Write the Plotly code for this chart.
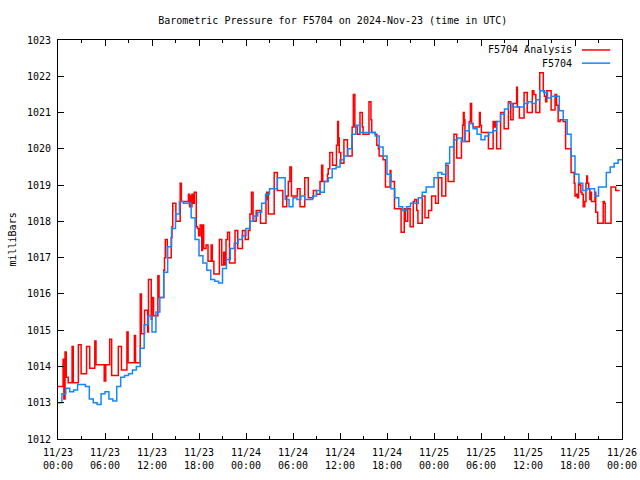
import plotly.graph_objects as go

# ---- data (hours since 2024-11-23 00:00 UTC, pressure in mbar) ----
tick_hours = [0, 6, 12, 18, 24, 30, 36, 42, 48, 54, 60, 66, 72]
tick_labels = ["11/23<br>00:00", "11/23<br>06:00", "11/23<br>12:00", "11/23<br>18:00",
               "11/24<br>00:00", "11/24<br>06:00", "11/24<br>12:00", "11/24<br>18:00",
               "11/25<br>00:00", "11/25<br>06:00", "11/25<br>12:00", "11/25<br>18:00",
               "11/26<br>00:00"]

analysis_hours = [
    0.0, 0.65, 0.75, 0.9, 1.05, 1.3, 1.8, 1.95, 2.6, 2.95, 3.65, 4.05, 4.7, 4.85, 5.9, 6.1,
    6.6, 6.85, 7.7, 8.1, 8.8, 8.95, 9.75, 9.9, 10.5, 10.65, 11.05, 11.45, 11.55, 11.9, 12.0,
    12.2, 12.75, 12.9, 13.5, 13.6, 13.7, 13.95, 14.45, 14.55, 14.65, 15.05, 15.6, 15.75,
    16.65, 16.8, 16.9, 17.0, 17.1, 17.25, 17.4, 17.65, 17.8, 17.95, 18.15, 18.35, 18.45,
    18.6, 18.9, 19.15, 19.55, 19.7, 19.9, 20.6, 20.9, 21.15, 21.3, 21.45, 21.65, 21.9, 22.6,
    22.95, 23.55, 23.9, 24.3, 24.5, 24.7, 24.9, 25.3, 25.85, 26.55, 26.65, 26.85, 27.6,
    28.0, 28.7, 29.2, 29.4, 29.6, 29.8, 30.55, 30.9, 31.5, 31.95, 32.6, 33.0, 33.45, 33.65,
    33.8, 34.4, 34.5, 34.7, 35.05, 35.55, 35.7, 35.8, 35.9, 36.1, 36.5, 36.95, 37.55, 37.7,
    37.9, 38.2, 38.55, 38.85, 38.95, 39.7, 39.95, 40.05, 40.5, 40.7, 40.9, 41.0, 41.5, 41.8,
    42.4, 42.5, 42.95, 43.8, 44.2, 44.35, 44.65, 44.95, 45.35, 45.55, 45.8, 45.95, 46.5,
    46.85, 47.3, 47.7, 48.2, 48.55, 49.0, 49.5, 49.8, 50.55, 50.9, 51.5, 51.65, 51.75, 51.85,
    51.95, 52.5, 52.65, 52.8, 53.0, 53.8, 53.9, 54.05, 54.95, 55.55, 55.7, 55.85, 56.0, 56.5,
    56.95, 57.5, 57.8, 58.1, 58.55, 58.65, 58.9, 59.5, 59.9, 60.55, 60.75, 61.0, 61.5, 61.95,
    62.1, 62.25, 62.4, 62.95, 63.45, 63.65, 63.85, 64.1, 64.5, 64.8, 65.5, 65.9, 66.0, 66.2,
    66.3, 66.45, 66.6, 66.75, 66.9, 67.05, 67.25, 67.4, 67.5, 67.6, 67.75, 67.9, 68.0, 68.1,
    68.55, 68.65, 68.9, 69.6, 69.75, 69.85, 70.6, 71.2, 71.7]
analysis_mb = [
    1013.45, 1014.2, 1013.1, 1014.4, 1013.7, 1013.55, 1014.55, 1013.55, 1014.6, 1013.8,
    1014.55, 1013.95, 1014.7, 1014.05, 1013.6, 1014.05, 1014.75, 1013.75, 1014.55, 1013.9,
    1014.95, 1014.1, 1014.85, 1014.1, 1016.0, 1014.9, 1015.55, 1014.95, 1016.4, 1015.3,
    1015.9, 1015.4, 1016.5, 1015.9, 1016.65, 1017.0, 1017.5, 1017.0, 1017.55, 1017.85,
    1018.5, 1018.0, 1019.05, 1018.55, 1018.75, 1018.4, 1018.7, 1018.4, 1018.75, 1018.5,
    1018.8, 1017.85, 1017.8, 1017.6, 1017.9, 1017.2, 1017.9, 1017.25, 1017.35, 1016.9,
    1017.35, 1016.9, 1016.55, 1017.5, 1016.8, 1017.15, 1016.8, 1017.5, 1017.7, 1016.85,
    1017.75, 1017.25, 1017.75, 1017.5, 1017.75, 1018.2, 1018.8, 1018.0, 1018.3, 1017.95,
    1018.6, 1018.8, 1018.2, 1019.35, 1018.85, 1018.4, 1018.7, 1019.1, 1019.5, 1018.7,
    1018.9, 1018.4, 1019.2, 1018.65, 1018.85, 1018.75, 1019.1, 1019.55, 1019.1, 1019.3,
    1019.45, 1019.9, 1019.55, 1020.1, 1020.75, 1020.3, 1019.9, 1019.6, 1020.25, 1019.8,
    1020.6, 1021.5, 1020.6, 1020.4, 1021.0, 1020.6, 1020.4, 1021.3, 1020.8, 1020.45,
    1020.4, 1020.1, 1020.0, 1019.8, 1019.7, 1018.95, 1019.4, 1019.1, 1018.35, 1017.7,
    1018.35, 1018.0, 1018.35, 1017.85, 1018.55, 1018.6, 1018.3, 1017.95, 1018.7, 1018.1,
    1018.3, 1018.7, 1018.5, 1019.2, 1018.7, 1019.55, 1019.1, 1020.4, 1019.75, 1020.2,
    1020.65, 1021.0, 1020.8, 1020.2, 1020.75, 1021.25, 1020.7, 1020.6, 1021.0, 1020.65,
    1020.45, 1020.0, 1020.75, 1020.6, 1020.75, 1020.0, 1021.0, 1020.55, 1021.3, 1020.8,
    1021.25, 1021.7, 1021.15, 1020.85, 1021.55, 1021.0, 1021.6, 1021.5, 1021.0, 1022.1,
    1021.6, 1021.45, 1021.3, 1021.6, 1021.07, 1021.5, 1021.2, 1020.75, 1020.8, 1020.75,
    1020.0, 1019.35, 1019.05, 1018.7, 1018.75, 1018.65, 1019.05, 1019.0, 1018.8, 1018.75,
    1018.4, 1018.55, 1019.05, 1019.25, 1019.05, 1018.9, 1018.6, 1018.8, 1018.55, 1018.8,
    1018.25, 1017.95, 1018.55, 1018.5, 1017.95, 1018.95, 1018.85, 1018.85]

station_hours = [i * 0.5 for i in range(145)]
station_mb = [
    1013.0, 1013.25, 1013.4, 1013.3, 1013.35, 1013.5, 1013.5, 1013.45, 1013.1, 1013.0,
    1012.95, 1013.25, 1013.3, 1013.1, 1013.05, 1013.45, 1013.7, 1013.75, 1013.8, 1013.9,
    1014.0, 1014.5, 1015.15, 1015.4, 1014.95, 1015.5, 1015.9, 1016.6, 1017.3, 1017.8,
    1018.2, 1018.55, 1018.5, 1018.5, 1018.1, 1017.5, 1017.05, 1016.85, 1016.65, 1016.4,
    1016.35, 1016.3, 1016.7, 1016.95, 1017.25, 1017.4, 1017.5, 1017.6, 1017.8, 1018.0,
    1018.15, 1018.25, 1018.5, 1018.75, 1018.9, 1018.9, 1019.2, 1019.2, 1018.6, 1018.4,
    1018.65, 1018.6, 1018.7, 1018.6, 1018.6, 1018.7, 1018.85, 1018.8, 1019.1, 1019.2,
    1019.45, 1019.5, 1019.7, 1019.8, 1020.0, 1020.4, 1020.65, 1020.45, 1020.45, 1020.45,
    1020.45, 1020.35, 1020.05, 1019.8, 1019.3, 1018.9, 1018.65, 1018.4, 1018.3, 1018.4,
    1018.5, 1018.5, 1018.65, 1018.8, 1018.95, 1018.95, 1019.2, 1019.35, 1019.3, 1019.6,
    1020.05, 1020.25, 1020.3, 1020.2, 1020.5, 1020.7, 1020.55, 1020.4, 1020.25, 1020.35,
    1020.45, 1020.5, 1020.75, 1020.95, 1021.1, 1021.25, 1021.15, 1021.15, 1021.15, 1021.25,
    1021.3, 1021.25, 1021.35, 1021.6, 1021.55, 1021.4, 1021.45, 1021.45, 1021.05, 1020.8,
    1020.4, 1019.8, 1019.3, 1019.05, 1018.85, 1018.9, 1018.9, 1018.7, 1018.95, 1018.95,
    1019.35, 1019.5, 1019.6, 1019.7, 1019.72]

assert len(analysis_hours) == len(analysis_mb)
assert len(station_hours) == len(station_mb)

RED = "#ff0000"
BLUE = "#1188ff"
FONT = "DejaVu Sans Mono"

fig = go.Figure()
fig.add_trace(go.Scatter(x=analysis_hours, y=analysis_mb, mode="lines", line_shape="hv",
                         line=dict(color=RED, width=1.5), name="F5704 Analysis",
                         showlegend=False))
fig.add_trace(go.Scatter(x=station_hours, y=station_mb, mode="lines", line_shape="hv",
                         line=dict(color=BLUE, width=1.5), name="F5704",
                         showlegend=False))

axis_common = dict(showline=True, linecolor="black", linewidth=1, mirror="allticks",
                   ticks="inside", tickcolor="black", showgrid=False, zeroline=False,
                   automargin=False,
                   tickfont=dict(family=FONT, size=10, color="black"))

fig.update_xaxes(range=[0, 72], tickmode="array", tickvals=tick_hours, ticktext=tick_labels,
                 ticklen=6, minor=dict(ticks="inside", dtick=3, ticklen=3, tickcolor="black",
                                       showgrid=False),
                 ticklabelstandoff=4, **axis_common)
fig.update_yaxes(range=[1012, 1023], dtick=1, ticklen=6, ticklabelstandoff=4,
                 **axis_common)

# y-axis title and legend drawn gnuplot-style
fig.add_annotation(x=(12 - 58) / 564, y=0.5, xref="paper", yref="paper", text="milliBars",
                   showarrow=False, textangle=-90, xanchor="center", yanchor="middle",
                   font=dict(family=FONT, size=10, color="black"))

legend_items = [("F5704 Analysis", RED, 0.975), ("F5704", BLUE, 0.942)]
for label, color, yp in legend_items:
    fig.add_annotation(x=0.915, y=yp, xref="paper", yref="paper", text=label,
                       showarrow=False, xanchor="right", yanchor="middle",
                       font=dict(family=FONT, size=10, color="black"))
    fig.add_shape(type="line", xref="paper", yref="paper", x0=0.929, x1=0.979, y0=yp, y1=yp,
                  line=dict(color=color, width=1.5))

fig.update_layout(
    width=640, height=480,
    margin=dict(l=58, r=18, t=40, b=41, autoexpand=False),
    paper_bgcolor="white", plot_bgcolor="white",
    title=dict(text="Barometric Pressure for F5704 on 2024-Nov-23 (time in UTC)",
               font=dict(family=FONT, size=10, color="black"),
               x=0.52, xanchor="center", y=1 - 20 / 480, yanchor="middle",
               xref="container", yref="container", automargin=False),
)

fig.write_html("out.html", config={"displayModeBar": False},
               post_script="document.body.style.margin='0';document.body.style.padding='0';")
